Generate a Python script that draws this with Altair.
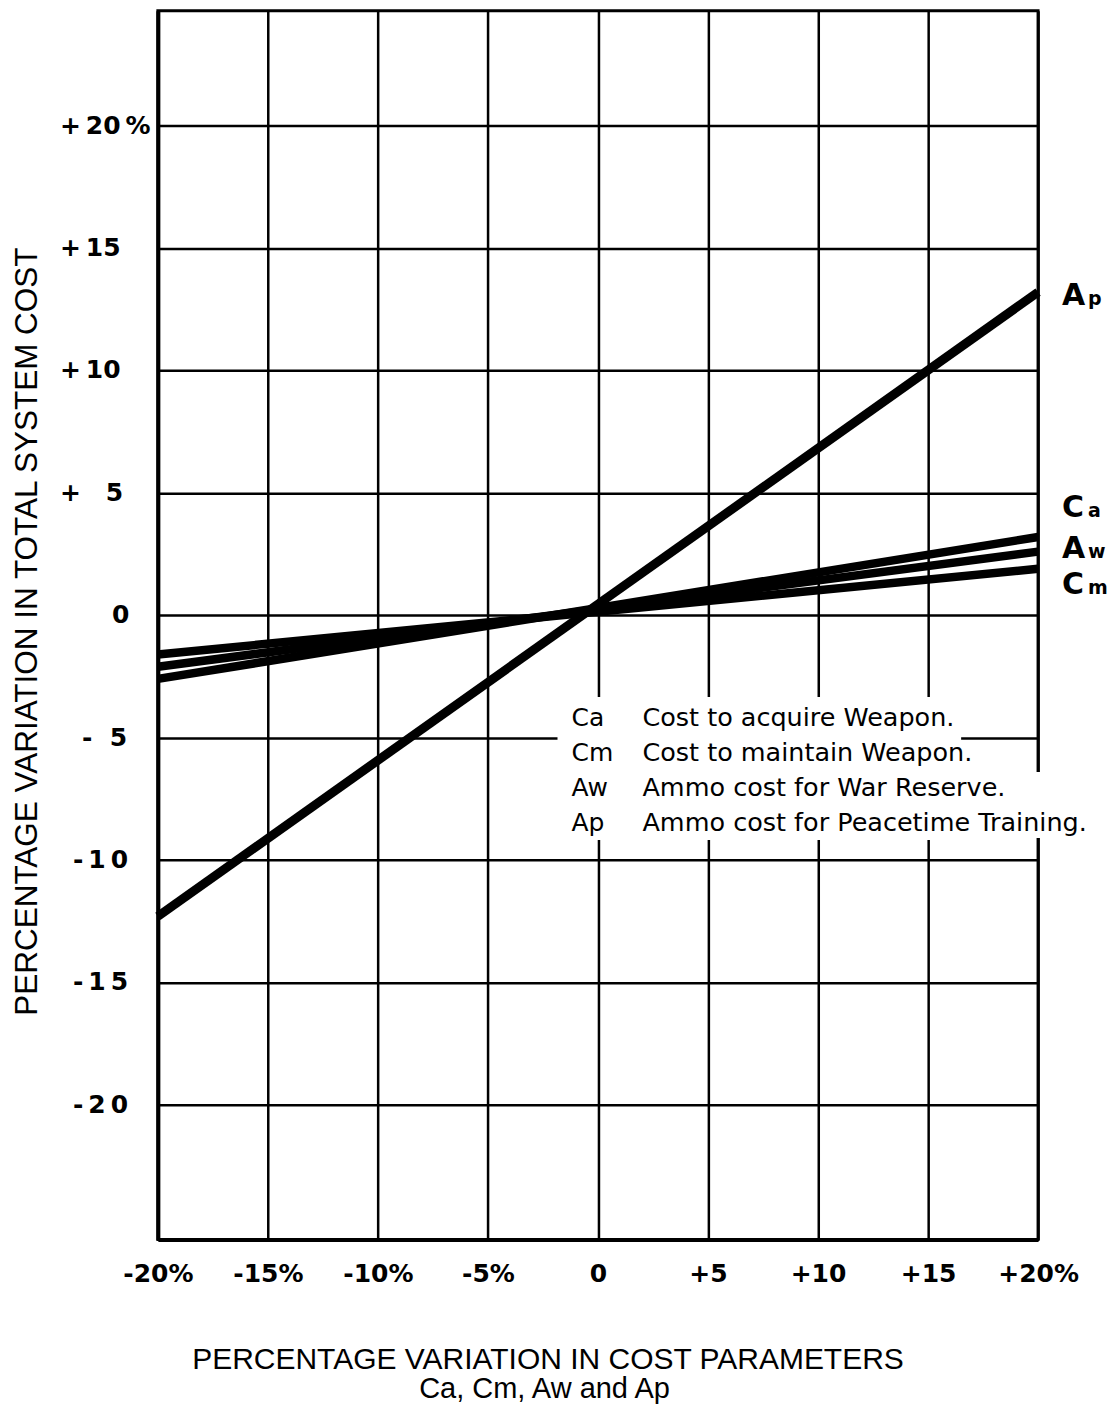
import altair as alt
import pandas as pd

# ---------------- data ----------------
x_ends = [-20, 20]
series = ["Ca", "Aw", "Cm", "Ap"]
start_vals = [-2.6, -2.1, -1.6, -12.3]
end_vals = [3.2, 2.6, 1.9, 13.2]
main_letters = ["C", "A", "C", "A"]
sub_letters = ["a", "w", "m", "p"]

x_ticks = [-20, -15, -10, -5, 0, 5, 10, 15, 20]
x_tick_labels = ["-20%", "-15%", "-10%", "-5%", "0", "+5", "+10", "+15", "+20%"]

TS, EN = "\u2009", "\u2002"
y_ticks = [20, 15, 10, 5, 0, -5, -10, -15, -20]
y_tick_labels = ["+" + TS + "20" + TS + "%", "+" + TS + "15", "+" + TS + "10",
                 "+" + EN + EN + "5", "0", "-" + EN + TS + "5",
                 "-" + TS + "1" + TS + "0", "-" + TS + "1" + TS + "5",
                 "-" + TS + "2" + TS + "0"]

legend_codes = ["Ca", "Cm", "Aw", "Ap"]
legend_desc = ["Cost to acquire Weapon.", "Cost to maintain Weapon.",
               "Ammo cost for War Reserve.", "Ammo cost for Peacetime Training."]

x_title = "PERCENTAGE VARIATION IN COST PARAMETERS"
x_subtitle = "Ca, Cm, Aw and Ap"
y_title = "PERCENTAGE VARIATION IN TOTAL SYSTEM COST"

# ---------------- tables ----------------
rows = []
for s, a, b in zip(series, start_vals, end_vals):
    rows.append({"series": s, "x": x_ends[0], "y": a})
    rows.append({"series": s, "x": x_ends[1], "y": b})
lines_df = pd.DataFrame(rows)

labels_df = pd.DataFrame({"series": series, "x": [x_ends[1]] * len(series),
                          "y": end_vals, "main": main_letters, "sub": sub_letters})

ylab_df = pd.DataFrame({"y": y_ticks, "label": y_tick_labels})


def label_expr(values, labels):
    expr = "''"
    for v, l in reversed(list(zip(values, labels))):
        expr = f"datum.value == {v} ? '{l}' : ({expr})"
    return expr


W, H = 881, 1230
xscale = alt.Scale(domain=[-20, 20], nice=False, zero=False)
yscale = alt.Scale(domain=[-25.5, 24.7], nice=False, zero=False)

x_axis = alt.Axis(values=x_ticks, labelExpr=label_expr(x_ticks, x_tick_labels),
                  grid=True, gridColor="black", gridWidth=2.5, gridOpacity=1,
                  ticks=False, domain=True, domainColor="black", domainWidth=4,
                  labelFont="DejaVu Sans", labelFontWeight="bold", labelFontSize=25,
                  labelColor="black", labelPadding=22, labelFlush=False,
                  labelOverlap=False, labelBound=False,
                  title=x_title, titleFont="Liberation Sans", titleFontSize=30,
                  titleFontWeight="normal", titleColor="black",
                  titleX=390, titleY=120, titleAlign="center", titleBaseline="middle")

y_axis = alt.Axis(values=y_ticks, labels=False,
                  grid=True, gridColor="black", gridWidth=2.5, gridOpacity=1,
                  ticks=False, domain=True, domainColor="black", domainWidth=4,
                  title=y_title, titleFont="Liberation Sans", titleFontSize=31.5,
                  titleFontWeight="normal", titleColor="black", titleAngle=270,
                  titleX=-130, titleY=621, titleAlign="center", titleBaseline="middle")

base = alt.Chart(lines_df)

small_lines = base.transform_filter(alt.datum.series != "Ap").mark_line(
    color="black", strokeWidth=8.5, strokeCap="butt").encode(
    x=alt.X("x:Q", scale=xscale, axis=x_axis),
    y=alt.Y("y:Q", scale=yscale, axis=y_axis),
    detail="series:N")

ap_line = base.transform_filter(alt.datum.series == "Ap").mark_line(
    color="black", strokeWidth=9, strokeCap="butt").encode(
    x="x:Q", y="y:Q")

# y tick labels (hand-lettered, unevenly indented in the original)
ylab_layers = []
for cond, xpos in [(alt.datum.y > 0, -98), (alt.datum.y == 0, -46),
                   (alt.datum.y == -5, -76), (alt.datum.y < -5, -85)]:
    ylab_layers.append(alt.Chart(ylab_df).transform_filter(cond).mark_text(
        align="left", baseline="middle", font="DejaVu Sans", fontWeight="bold",
        fontSize=25, color="black").encode(
        x=alt.value(xpos), y="y:Q", text="label:N"))

# white mask behind the in-plot legend (as in the original drawing)
blank = pd.DataFrame({"k": [0]})
mask1 = alt.Chart(blank).mark_rect(color="white").encode(
    x=alt.value(400), x2=alt.value(804), y=alt.value(687), y2=alt.value(830))
mask2 = alt.Chart(blank).mark_rect(color="white").encode(
    x=alt.value(804), x2=alt.value(890), y=alt.value(762), y2=alt.value(828))

# right-hand series labels (letter + subscript)
dys = {"Ca": -20, "Aw": 6.5, "Cm": 25, "Ap": 13}
label_layers = []
for s in series:
    lb = alt.Chart(labels_df).transform_filter(alt.datum.series == s)
    label_layers.append(lb.mark_text(
        align="left", baseline="alphabetic", dx=24, dy=dys[s],
        font="DejaVu Sans", fontWeight="bold", fontSize=30, color="black").encode(
        x="x:Q", y="y:Q", text="main:N"))
    label_layers.append(lb.mark_text(
        align="left", baseline="alphabetic", dx=50, dy=dys[s],
        font="DejaVu Sans", fontWeight="bold", fontSize=19, color="black").encode(
        x="x:Q", y="y:Q", text="sub:N"))

legend_codes_mark = alt.Chart(blank).mark_text(
    text=legend_codes, align="left", baseline="middle", lineHeight=35,
    font="DejaVu Sans", fontSize=25, color="black").encode(
    x=alt.value(414), y=alt.value(708))
legend_desc_mark = alt.Chart(blank).mark_text(
    text=legend_desc, align="left", baseline="middle", lineHeight=35,
    font="DejaVu Sans", fontSize=25.5, color="black").encode(
    x=alt.value(485), y=alt.value(708))

subtitle = alt.Chart(blank).mark_text(
    text=x_subtitle, align="center", baseline="middle",
    font="Liberation Sans", fontSize=29, color="black").encode(
    x=alt.value(387), y=alt.value(1380))

chart = alt.layer(
    small_lines, ap_line, *ylab_layers, mask1, mask2, *label_layers,
    legend_codes_mark, legend_desc_mark, subtitle
).properties(
    width=W, height=H,
    autosize=alt.AutoSizeParams(type="none"),
    padding={"left": 150, "top": 2, "right": 70, "bottom": 170},
    background="white"
).configure_view(stroke="black", strokeWidth=3)

chart.save("out.html", embed_options={"renderer": "svg", "actions": False})
